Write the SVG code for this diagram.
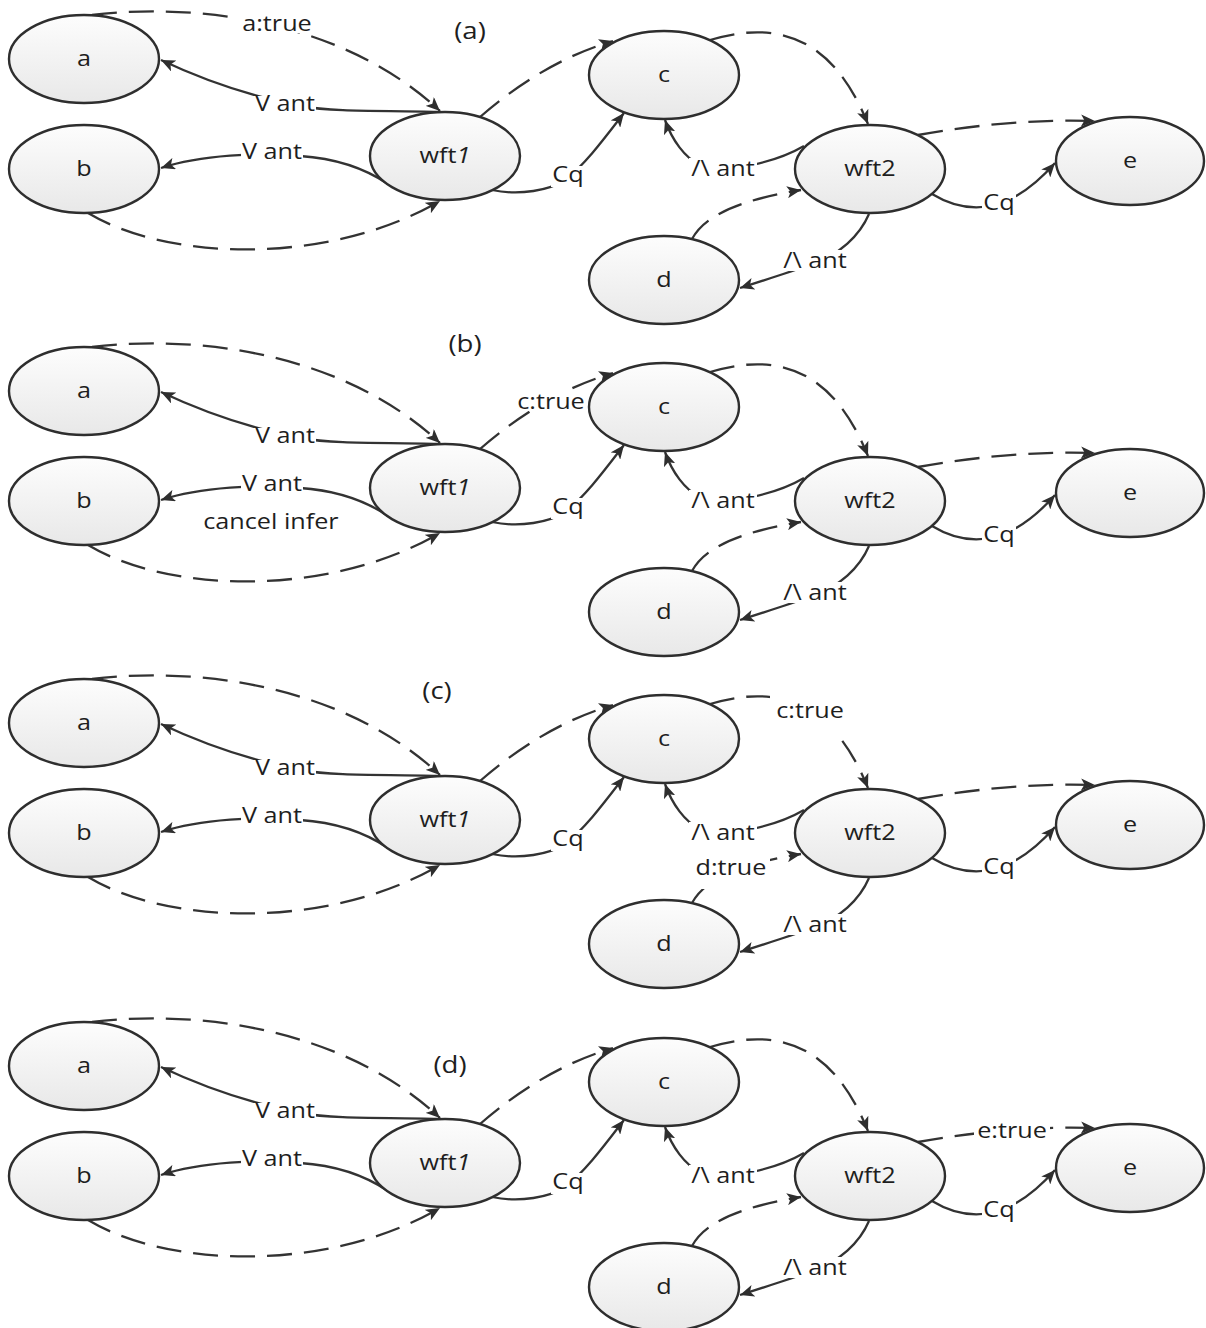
<svg xmlns="http://www.w3.org/2000/svg" width="1206" height="1328" viewBox="0 0 1206 1328">
<defs>
  <linearGradient id="nodeFill" x1="0" y1="0" x2="0" y2="1">
    <stop offset="0" stop-color="#fdfdfd"/>
    <stop offset="1" stop-color="#e8e8e8"/>
  </linearGradient>
  <marker id="arr" markerWidth="15" markerHeight="12" refX="14" refY="6" orient="auto" markerUnits="userSpaceOnUse">
    <path d="M0,0 L14,6 L0,12 L3.5,6 z" fill="#2e2e2e"/>
  </marker>
</defs>
<style>
  .node ellipse { fill: url(#nodeFill); stroke: #2e2e2e; stroke-width: 2.4; }
  .lbl { font-family: "Open Sans", "Liberation Sans", sans-serif; font-size: 21px; fill: #1e1e1e; text-anchor: middle; transform-box: fill-box; transform-origin: center; transform: scaleX(1.2); }
  .title { font-size: 23px; }
  .edge { fill: none; stroke: #333333; stroke-width: 2.3; marker-end: url(#arr); }
  .dash { stroke-dasharray: 25 12; }
  .mask { fill: #ffffff; }
  .it { font-style: italic; }
</style>
<rect width="1206" height="1328" fill="#ffffff"/>

<!-- Panel titles -->
<text class="lbl title" x="470" y="39">(a)</text>
<text class="lbl title" x="465" y="352">(b)</text>
<text class="lbl title" x="437" y="699">(c)</text>
<text class="lbl title" x="450" y="1073">(d)</text>

<!-- ================= Panel (a) ================= -->
<g id="panel-a">
  <g id="connectors-a">
    <path class="edge dash" d="M 92 15 C 200 2, 345 22, 440 111"/>
    <path class="edge" d="M 438 112 C 390 110, 340 113, 300 106 C 270 100, 220 88, 161 60"/>
    <path class="edge" d="M 388 184 C 360 165, 330 158, 300 156 C 260 152, 200 155, 161 168"/>
    <path class="edge dash" d="M 88 213 C 170 262, 330 265, 440 201"/>
    <path class="edge dash" d="M 480 117 C 520 82, 565 55, 613 41"/>
    <path class="edge" d="M 492 190 C 520 196, 550 190, 565 180 C 585 165, 607 135, 624 113"/>
    <path class="edge dash" d="M 710 40 C 770 22, 830 30, 868 124"/>
    <path class="edge" d="M 804 146 C 780 160, 730 175, 700 165 C 685 158, 672 140, 665 120"/>
    <path class="edge dash" d="M 692 239 C 705 215, 740 200, 801 190"/>
    <path class="edge" d="M 869 214 C 860 235, 840 255, 810 265 C 790 272, 765 280, 740 288"/>
    <path class="edge dash" d="M 918 135 C 980 124, 1040 119, 1095 121"/>
    <path class="edge" d="M 932 194 C 955 208, 975 210, 995 205 C 1020 198, 1040 180, 1055 163"/>
    <rect class="mask" x="254" y="96" width="62" height="18"/>
    <rect class="mask" x="241" y="144" width="62" height="18"/>
    <rect class="mask" x="551" y="166" width="34" height="21"/>
    <rect class="mask" x="689" y="158" width="68" height="21"/>
    <rect class="mask" x="781" y="250" width="68" height="21"/>
    <rect class="mask" x="982" y="194" width="34" height="21"/>
    <rect class="mask" x="234" y="11" width="80" height="22"/>
    <text class="lbl" x="285" y="111">V ant</text>
    <text class="lbl" x="272" y="159">V ant</text>
    <text class="lbl" x="568" y="182">Cq</text>
    <text class="lbl" x="723" y="176">/\ ant</text>
    <text class="lbl" x="815" y="268">/\ ant</text>
    <text class="lbl" x="999" y="210">Cq</text>
    <text class="lbl" x="277" y="31">a:true</text>
  </g>
  <g id="a-node-a" class="node"><ellipse cx="84" cy="59" rx="75" ry="44"/><text class="lbl" x="84" y="66">a</text></g>
  <g id="a-node-b" class="node"><ellipse cx="84" cy="169" rx="75" ry="44"/><text class="lbl" x="84" y="176">b</text></g>
  <g id="a-node-wft1" class="node"><ellipse cx="445" cy="156" rx="75" ry="44"/><text class="lbl" x="445" y="163">wft<tspan class="it">1</tspan></text></g>
  <g id="a-node-c" class="node"><ellipse cx="664" cy="75" rx="75" ry="44"/><text class="lbl" x="664" y="82">c</text></g>
  <g id="a-node-wft2" class="node"><ellipse cx="870" cy="169" rx="75" ry="44"/><text class="lbl" x="870" y="176">wft2</text></g>
  <g id="a-node-e" class="node"><ellipse cx="1130" cy="161" rx="74" ry="44"/><text class="lbl" x="1130" y="168">e</text></g>
  <g id="a-node-d" class="node"><ellipse cx="664" cy="280" rx="75" ry="44"/><text class="lbl" x="664" y="287">d</text></g>
</g>

<!-- ================= Panel (b) ================= -->
<g id="panel-b" transform="translate(0,332)">
  <g id="connectors-b">
    <path class="edge dash" d="M 92 15 C 200 2, 345 22, 440 111"/>
    <path class="edge" d="M 438 112 C 390 110, 340 113, 300 106 C 270 100, 220 88, 161 60"/>
    <path class="edge" d="M 388 184 C 360 165, 330 158, 300 156 C 260 152, 200 155, 161 168"/>
    <path class="edge dash" d="M 88 213 C 170 262, 330 265, 440 201"/>
    <path class="edge dash" d="M 480 117 C 520 82, 565 55, 613 41"/>
    <path class="edge" d="M 492 190 C 520 196, 550 190, 565 180 C 585 165, 607 135, 624 113"/>
    <path class="edge dash" d="M 710 40 C 770 22, 830 30, 868 124"/>
    <path class="edge" d="M 804 146 C 780 160, 730 175, 700 165 C 685 158, 672 140, 665 120"/>
    <path class="edge dash" d="M 692 239 C 705 215, 740 200, 801 190"/>
    <path class="edge" d="M 869 214 C 860 235, 840 255, 810 265 C 790 272, 765 280, 740 288"/>
    <path class="edge dash" d="M 918 135 C 980 124, 1040 119, 1095 121"/>
    <path class="edge" d="M 932 194 C 955 208, 975 210, 995 205 C 1020 198, 1040 180, 1055 163"/>
    <rect class="mask" x="254" y="96" width="62" height="18"/>
    <rect class="mask" x="241" y="144" width="62" height="18"/>
    <rect class="mask" x="551" y="166" width="34" height="21"/>
    <rect class="mask" x="689" y="158" width="68" height="21"/>
    <rect class="mask" x="781" y="250" width="68" height="21"/>
    <rect class="mask" x="982" y="194" width="34" height="21"/>
    <rect class="mask" x="515" y="59" width="71" height="20"/>
    <text class="lbl" x="285" y="111">V ant</text>
    <text class="lbl" x="272" y="159">V ant</text>
    <text class="lbl" x="568" y="182">Cq</text>
    <text class="lbl" x="723" y="176">/\ ant</text>
    <text class="lbl" x="815" y="268">/\ ant</text>
    <text class="lbl" x="999" y="210">Cq</text>
    <text class="lbl" x="551" y="77">c:true</text>
    <text class="lbl" x="271" y="197">cancel infer</text>
  </g>
  <g id="b-node-a" class="node"><ellipse cx="84" cy="59" rx="75" ry="44"/><text class="lbl" x="84" y="66">a</text></g>
  <g id="b-node-b" class="node"><ellipse cx="84" cy="169" rx="75" ry="44"/><text class="lbl" x="84" y="176">b</text></g>
  <g id="b-node-wft1" class="node"><ellipse cx="445" cy="156" rx="75" ry="44"/><text class="lbl" x="445" y="163">wft<tspan class="it">1</tspan></text></g>
  <g id="b-node-c" class="node"><ellipse cx="664" cy="75" rx="75" ry="44"/><text class="lbl" x="664" y="82">c</text></g>
  <g id="b-node-wft2" class="node"><ellipse cx="870" cy="169" rx="75" ry="44"/><text class="lbl" x="870" y="176">wft2</text></g>
  <g id="b-node-e" class="node"><ellipse cx="1130" cy="161" rx="74" ry="44"/><text class="lbl" x="1130" y="168">e</text></g>
  <g id="b-node-d" class="node"><ellipse cx="664" cy="280" rx="75" ry="44"/><text class="lbl" x="664" y="287">d</text></g>
</g>

<!-- ================= Panel (c) ================= -->
<g id="panel-c" transform="translate(0,664)">
  <g id="connectors-c">
    <path class="edge dash" d="M 92 15 C 200 2, 345 22, 440 111"/>
    <path class="edge" d="M 438 112 C 390 110, 340 113, 300 106 C 270 100, 220 88, 161 60"/>
    <path class="edge" d="M 388 184 C 360 165, 330 158, 300 156 C 260 152, 200 155, 161 168"/>
    <path class="edge dash" d="M 88 213 C 170 262, 330 265, 440 201"/>
    <path class="edge dash" d="M 480 117 C 520 82, 565 55, 613 41"/>
    <path class="edge" d="M 492 190 C 520 196, 550 190, 565 180 C 585 165, 607 135, 624 113"/>
    <path class="edge dash" d="M 710 40 C 770 22, 830 30, 868 124"/>
    <path class="edge" d="M 804 146 C 780 160, 730 175, 700 165 C 685 158, 672 140, 665 120"/>
    <path class="edge dash" d="M 692 239 C 705 215, 740 200, 801 190"/>
    <path class="edge" d="M 869 214 C 860 235, 840 255, 810 265 C 790 272, 765 280, 740 288"/>
    <path class="edge dash" d="M 918 135 C 980 124, 1040 119, 1095 121"/>
    <path class="edge" d="M 932 194 C 955 208, 975 210, 995 205 C 1020 198, 1040 180, 1055 163"/>
    <rect class="mask" x="254" y="96" width="62" height="18"/>
    <rect class="mask" x="241" y="144" width="62" height="18"/>
    <rect class="mask" x="551" y="166" width="34" height="21"/>
    <rect class="mask" x="689" y="158" width="68" height="21"/>
    <rect class="mask" x="781" y="250" width="68" height="21"/>
    <rect class="mask" x="982" y="194" width="34" height="21"/>
    <rect class="mask" x="770" y="30" width="76" height="42"/>
    <rect class="mask" x="694" y="193" width="76" height="32"/>
    <text class="lbl" x="285" y="111">V ant</text>
    <text class="lbl" x="272" y="159">V ant</text>
    <text class="lbl" x="568" y="182">Cq</text>
    <text class="lbl" x="723" y="176">/\ ant</text>
    <text class="lbl" x="815" y="268">/\ ant</text>
    <text class="lbl" x="999" y="210">Cq</text>
    <text class="lbl" x="810" y="54">c:true</text>
    <text class="lbl" x="731" y="211">d:true</text>
  </g>
  <g id="c-node-a" class="node"><ellipse cx="84" cy="59" rx="75" ry="44"/><text class="lbl" x="84" y="66">a</text></g>
  <g id="c-node-b" class="node"><ellipse cx="84" cy="169" rx="75" ry="44"/><text class="lbl" x="84" y="176">b</text></g>
  <g id="c-node-wft1" class="node"><ellipse cx="445" cy="156" rx="75" ry="44"/><text class="lbl" x="445" y="163">wft<tspan class="it">1</tspan></text></g>
  <g id="c-node-c" class="node"><ellipse cx="664" cy="75" rx="75" ry="44"/><text class="lbl" x="664" y="82">c</text></g>
  <g id="c-node-wft2" class="node"><ellipse cx="870" cy="169" rx="75" ry="44"/><text class="lbl" x="870" y="176">wft2</text></g>
  <g id="c-node-e" class="node"><ellipse cx="1130" cy="161" rx="74" ry="44"/><text class="lbl" x="1130" y="168">e</text></g>
  <g id="c-node-d" class="node"><ellipse cx="664" cy="280" rx="75" ry="44"/><text class="lbl" x="664" y="287">d</text></g>
</g>

<!-- ================= Panel (d) ================= -->
<g id="panel-d" transform="translate(0,1007)">
  <g id="connectors-d">
    <path class="edge dash" d="M 92 15 C 200 2, 345 22, 440 111"/>
    <path class="edge" d="M 438 112 C 390 110, 340 113, 300 106 C 270 100, 220 88, 161 60"/>
    <path class="edge" d="M 388 184 C 360 165, 330 158, 300 156 C 260 152, 200 155, 161 168"/>
    <path class="edge dash" d="M 88 213 C 170 262, 330 265, 440 201"/>
    <path class="edge dash" d="M 480 117 C 520 82, 565 55, 613 41"/>
    <path class="edge" d="M 492 190 C 520 196, 550 190, 565 180 C 585 165, 607 135, 624 113"/>
    <path class="edge dash" d="M 710 40 C 770 22, 830 30, 868 124"/>
    <path class="edge" d="M 804 146 C 780 160, 730 175, 700 165 C 685 158, 672 140, 665 120"/>
    <path class="edge dash" d="M 692 239 C 705 215, 740 200, 801 190"/>
    <path class="edge" d="M 869 214 C 860 235, 840 255, 810 265 C 790 272, 765 280, 740 288"/>
    <path class="edge dash" d="M 918 135 C 980 124, 1040 119, 1095 121"/>
    <path class="edge" d="M 932 194 C 955 208, 975 210, 995 205 C 1020 198, 1040 180, 1055 163"/>
    <rect class="mask" x="254" y="96" width="62" height="18"/>
    <rect class="mask" x="241" y="144" width="62" height="18"/>
    <rect class="mask" x="551" y="166" width="34" height="21"/>
    <rect class="mask" x="689" y="158" width="68" height="21"/>
    <rect class="mask" x="781" y="250" width="68" height="21"/>
    <rect class="mask" x="982" y="194" width="34" height="21"/>
    <rect class="mask" x="974" y="114" width="76" height="20"/>
    <text class="lbl" x="285" y="111">V ant</text>
    <text class="lbl" x="272" y="159">V ant</text>
    <text class="lbl" x="568" y="182">Cq</text>
    <text class="lbl" x="723" y="176">/\ ant</text>
    <text class="lbl" x="815" y="268">/\ ant</text>
    <text class="lbl" x="999" y="210">Cq</text>
    <text class="lbl" x="1012" y="131">e:true</text>
  </g>
  <g id="d-node-a" class="node"><ellipse cx="84" cy="59" rx="75" ry="44"/><text class="lbl" x="84" y="66">a</text></g>
  <g id="d-node-b" class="node"><ellipse cx="84" cy="169" rx="75" ry="44"/><text class="lbl" x="84" y="176">b</text></g>
  <g id="d-node-wft1" class="node"><ellipse cx="445" cy="156" rx="75" ry="44"/><text class="lbl" x="445" y="163">wft<tspan class="it">1</tspan></text></g>
  <g id="d-node-c" class="node"><ellipse cx="664" cy="75" rx="75" ry="44"/><text class="lbl" x="664" y="82">c</text></g>
  <g id="d-node-wft2" class="node"><ellipse cx="870" cy="169" rx="75" ry="44"/><text class="lbl" x="870" y="176">wft2</text></g>
  <g id="d-node-e" class="node"><ellipse cx="1130" cy="161" rx="74" ry="44"/><text class="lbl" x="1130" y="168">e</text></g>
  <g id="d-node-d" class="node"><ellipse cx="664" cy="280" rx="75" ry="44"/><text class="lbl" x="664" y="287">d</text></g>
</g>
</svg>
